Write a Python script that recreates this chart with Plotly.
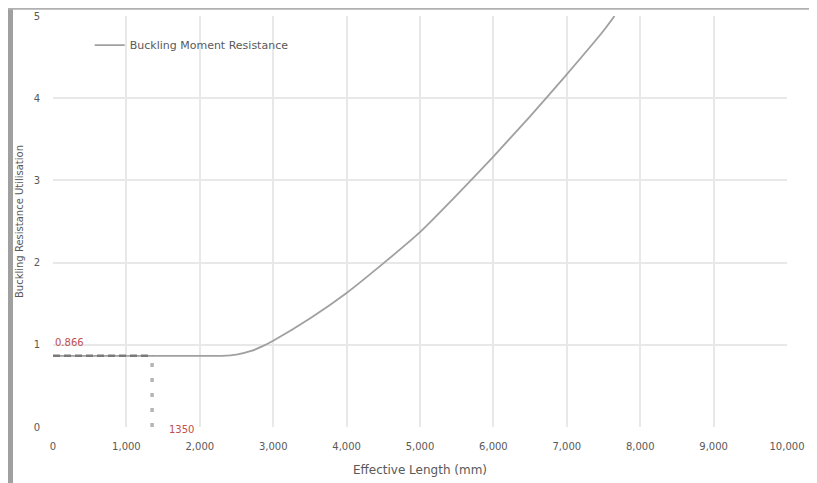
import plotly.graph_objects as go

# Data
lengths = [0, 500, 1000, 1500, 2000, 2300, 2500, 2700, 2850, 3000, 3500, 4000, 4500, 5000, 5500, 6000, 6500, 7000, 7500, 7650]
utilisation = [0.866, 0.866, 0.866, 0.866, 0.866, 0.866, 0.88, 0.925, 0.98, 1.05, 1.32, 1.63, 1.99, 2.37, 2.82, 3.29, 3.78, 4.29, 4.82, 5.0]
limit_length = 1350
limit_value = 0.866
x_ticks = [0, 1000, 2000, 3000, 4000, 5000, 6000, 7000, 8000, 9000, 10000]
y_ticks = [0, 1, 2, 3, 4, 5]

font_color = "#595959"
font_family = "DejaVu Sans"
fig = go.Figure()

fig.add_trace(go.Scatter(
    x=lengths, y=utilisation, mode="lines", name="Buckling Moment Resistance",
    line=dict(color="#a0a0a0", width=1.8, shape="spline", smoothing=0.6),
))
fig.add_trace(go.Scatter(
    x=[0, limit_length], y=[limit_value, limit_value], mode="lines", showlegend=False,
    line=dict(color="#7a7a7a", width=2.5, dash="7px,4px"),
))
fig.add_trace(go.Scatter(
    x=[limit_length, limit_length], y=[0, limit_value], mode="lines", showlegend=False,
    line=dict(color="#b5b5b5", width=3.5, dash="4px,11px"),
))

fig.add_annotation(x=0, y=limit_value, text=f"{limit_value:.3f}", showarrow=False,
                   xanchor="left", yanchor="middle", yshift=13,
                   font=dict(color="#c0504d", size=10, family=font_family))
fig.add_annotation(x=limit_length, y=0, text=f"{limit_length}", showarrow=False,
                   xanchor="left", yanchor="middle", xshift=15, yshift=-2,
                   font=dict(color="#c0504d", size=10, family=font_family))

fig.update_layout(
    width=817, height=483,
    margin=dict(l=45, r=38, t=8, b=64, autoexpand=False),
    paper_bgcolor="white", plot_bgcolor="white",
    font=dict(family=font_family, size=10, color=font_color),
    legend=dict(x=0.05, y=0.929, xanchor="left", yanchor="middle",
                bgcolor="rgba(0,0,0,0)", font=dict(size=11, color=font_color)),
    xaxis=dict(range=[0, 10000], tickvals=x_ticks, tickformat=",d",
               showgrid=True, gridcolor="#e8e8e8", gridwidth=2, zeroline=False,
               showline=False, automargin=False, ticklabelstandoff=12,
               title=dict(text="Effective Length (mm)", font=dict(size=12, color=font_color), standoff=14),
               ticks="", fixedrange=True, tickfont=dict(size=10)),
    yaxis=dict(range=[0, 5], tickvals=y_ticks, showgrid=True, gridcolor="#e8e8e8", gridwidth=2,
               zeroline=False, showline=False, automargin=False, ticklabelstandoff=12,
               title=dict(text="Buckling Resistance Utilisation", font=dict(size=10, color=font_color), standoff=8),
               ticks="", tickfont=dict(size=10)),
    shapes=[
        dict(type="rect", xref="paper", yref="paper", x0=-0.0613, x1=-0.0545, y0=-0.16, y1=1.02,
             fillcolor="#a0a0a0", line=dict(width=0), layer="below"),
        dict(type="rect", xref="paper", yref="paper", x0=-0.0613, x1=1.052, y0=1.015, y1=1.02,
             fillcolor="#b0b0b0", line=dict(width=0), layer="below"),
    ],
)

fig.write_html("out.html")
